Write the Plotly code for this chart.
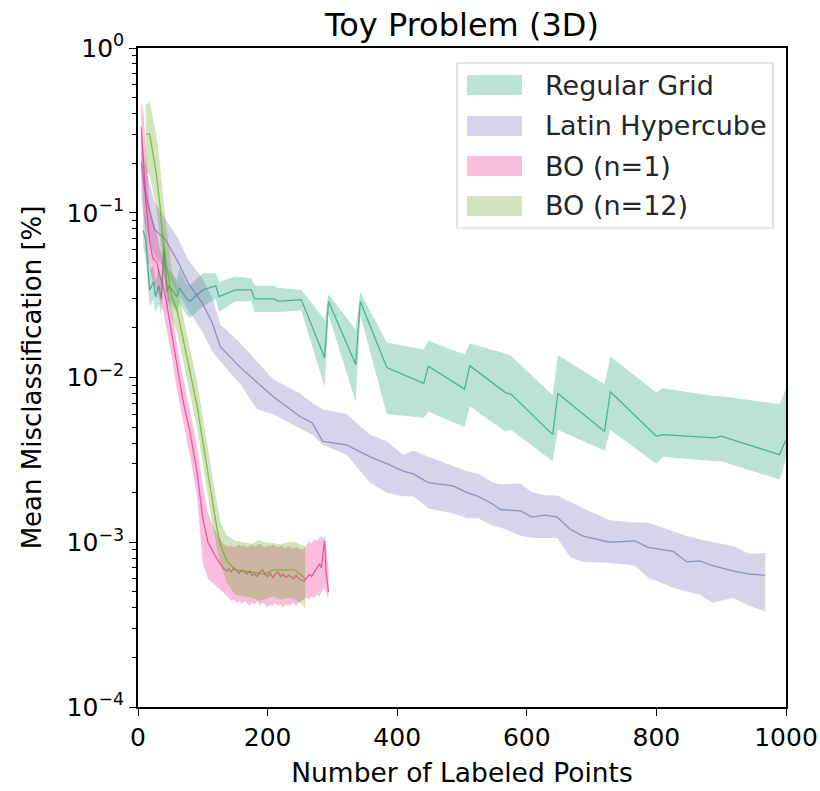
import plotly.graph_objects as go

# ---------------- data ----------------
rg_x = [8, 12, 18, 24, 27, 32, 36, 40, 45, 48, 60, 64, 75, 80, 100, 120, 125, 150, 175, 180,
        210, 216, 252, 288, 294, 336, 343, 384, 441, 448, 504, 512, 567, 576, 640, 648, 720,
        729, 800, 810, 891, 900, 990, 1000]
rg_mean = [0.078, 0.068, 0.034, 0.038, 0.031, 0.036, 0.030, 0.060, 0.033, 0.036, 0.031, 0.035,
           0.030, 0.029, 0.034, 0.036, 0.031, 0.034, 0.034, 0.030, 0.030, 0.029, 0.0297, 0.0132,
           0.029, 0.012, 0.029, 0.0115, 0.0092, 0.0117, 0.0085, 0.0118, 0.0081, 0.0079, 0.0045,
           0.0080, 0.0047, 0.0082, 0.0044, 0.0045, 0.0043, 0.0044, 0.0034, 0.0042]
rg_lo = [0.062, 0.052, 0.027, 0.030, 0.025, 0.028, 0.024, 0.045, 0.026, 0.029, 0.025, 0.028,
         0.024, 0.023, 0.027, 0.030, 0.025, 0.029, 0.029, 0.025, 0.025, 0.025, 0.0255, 0.0088,
         0.024, 0.0071, 0.024, 0.0060, 0.0057, 0.0062, 0.0050, 0.0067, 0.0047, 0.0048, 0.0031,
         0.0048, 0.0036, 0.0048, 0.0030, 0.0033, 0.0031, 0.0031, 0.0024, 0.0032]
rg_hi = [0.105, 0.090, 0.045, 0.048, 0.038, 0.046, 0.038, 0.080, 0.042, 0.045, 0.039, 0.046,
         0.037, 0.036, 0.043, 0.043, 0.038, 0.041, 0.040, 0.036, 0.036, 0.035, 0.034, 0.0225,
         0.032, 0.0195, 0.033, 0.0163, 0.0148, 0.0167, 0.0138, 0.0161, 0.0140, 0.0135, 0.0078,
         0.0137, 0.0091, 0.0134, 0.0081, 0.0086, 0.0077, 0.0077, 0.0069, 0.0085]

lh_x = [5, 10, 20, 26, 42, 62, 77, 99, 114, 127, 157, 184, 208, 250, 269, 285, 322, 358, 384,
        409, 425, 448, 486, 508, 525, 548, 559, 590, 608, 628, 647, 667, 687, 728, 767, 787,
        826, 847, 867, 887, 918, 944, 968]
lh_mean = [0.20, 0.14, 0.095, 0.079, 0.069, 0.050, 0.0377, 0.0284, 0.0217, 0.0154, 0.0116,
           0.0094, 0.0077, 0.0058, 0.0053, 0.0041, 0.0039, 0.0033, 0.0030, 0.0027, 0.0026,
           0.0023, 0.0022, 0.0020, 0.0019, 0.0017, 0.00158, 0.00155, 0.00142, 0.00146, 0.00142,
           0.00120, 0.00109, 0.00100, 0.00102, 0.00093, 0.00088, 0.00076, 0.00077, 0.00072,
           0.00067, 0.00064, 0.00063]
lh_lo = [0.12, 0.09, 0.062, 0.055, 0.045, 0.032, 0.026, 0.019, 0.0145, 0.0125, 0.0092, 0.0064,
         0.0060, 0.0049, 0.0045, 0.0039, 0.0034, 0.0023, 0.0020, 0.0019, 0.0019, 0.0016, 0.0015,
         0.0014, 0.0014, 0.00126, 0.00123, 0.00110, 0.00106, 0.00106, 0.00106, 0.00081,
         0.00076, 0.00075, 0.00072, 0.00061, 0.00053, 0.00050, 0.00048, 0.00043, 0.00046,
         0.00041, 0.00038]
lh_hi = [0.30, 0.21, 0.14, 0.115, 0.092, 0.070, 0.052, 0.040, 0.031, 0.021, 0.0163, 0.0125,
         0.0098, 0.0080, 0.0070, 0.0064, 0.0060, 0.0045, 0.0041, 0.0034, 0.0036, 0.0033, 0.0029,
         0.0027, 0.0026, 0.0023, 0.00225, 0.00227, 0.00201, 0.00193, 0.00192, 0.00175, 0.00161,
         0.00136, 0.00132, 0.00132, 0.00116, 0.00109, 0.00104, 0.00100, 0.00095, 0.00085,
         0.00086]

bo1_x = [5, 8, 12, 16, 18, 23, 29, 34, 39, 45, 52, 60, 69, 80, 91, 100, 108, 119, 131, 137,
         140, 144, 148, 152, 156, 160, 164, 168, 172, 176, 180, 184, 188, 192, 196, 200, 204,
         208, 212, 216, 220, 224, 228, 232, 236, 240, 244, 248, 252, 256, 260, 264, 268, 272,
         276, 280, 283, 286, 288, 290, 292, 294]
bo1_mean = [0.33, 0.20, 0.12, 0.080, 0.066, 0.053, 0.050, 0.041, 0.036, 0.027, 0.0187, 0.0116,
            0.0074, 0.0047, 0.0027, 0.0014, 0.0010, 0.00083, 0.00070, 0.00067,
            0.00069, 0.00066, 0.00070, 0.00067, 0.00065, 0.00068, 0.00066, 0.00064, 0.00067,
            0.00063, 0.00064, 0.00062, 0.00066, 0.00068, 0.00064, 0.00062, 0.00065, 0.00061,
            0.00064, 0.00066, 0.00062, 0.00064, 0.00061, 0.00063, 0.00062, 0.00060, 0.00063,
            0.00060, 0.00059, 0.00058, 0.00060, 0.00064, 0.00062, 0.00066, 0.00069, 0.00074,
            0.00070, 0.00088, 0.00102, 0.00068, 0.00056, 0.00050]
bo1_lo = [0.20, 0.11, 0.070, 0.050, 0.045, 0.038, 0.034, 0.029, 0.025, 0.019, 0.0135, 0.0085,
          0.0055, 0.0034, 0.0019, 0.00075, 0.00060, 0.00055, 0.00050, 0.00047,
          0.00046, 0.00044, 0.00045, 0.00043, 0.00044, 0.00042, 0.00044, 0.00043, 0.00041,
          0.00043, 0.00042, 0.00044, 0.00041, 0.00043, 0.00042, 0.00040, 0.00042, 0.00041,
          0.00043, 0.00041, 0.00042, 0.00040, 0.00042, 0.00041, 0.00042, 0.00043, 0.00041,
          0.00043, 0.00044, 0.00045, 0.00046, 0.00045, 0.00047, 0.00046, 0.00048, 0.00047,
          0.00049, 0.00052, 0.00053, 0.00050, 0.00047, 0.00046]
bo1_hi = [0.47, 0.42, 0.25, 0.13, 0.11, 0.09, 0.075, 0.060, 0.052, 0.040, 0.026, 0.016, 0.0102,
          0.0064, 0.0038, 0.0022, 0.0015, 0.00118, 0.00098, 0.00095,
          0.00094, 0.00096, 0.00093, 0.00095, 0.00097, 0.00094, 0.00096, 0.00093, 0.00095,
          0.00097, 0.00094, 0.00096, 0.00098, 0.00095, 0.00093, 0.00096, 0.00094, 0.00097,
          0.00095, 0.00093, 0.00096, 0.00094, 0.00092, 0.00095, 0.00093, 0.00091, 0.00094,
          0.00092, 0.00090, 0.00091, 0.00096, 0.00101, 0.00099, 0.00104, 0.00102, 0.00107,
          0.00110, 0.00104, 0.00112, 0.00100, 0.00082, 0.00070]

bo12_x = [12, 18, 28, 34, 39, 45, 52, 60, 69, 80, 91, 100, 111, 116, 122, 128, 137, 150, 165,
          176, 186, 196, 208, 220, 232, 242, 250, 258]
bo12_mean = [0.30, 0.30, 0.175, 0.11, 0.064, 0.047, 0.031, 0.026, 0.0175, 0.011, 0.0068, 0.0041,
             0.0022, 0.0016, 0.0012, 0.00095, 0.00077, 0.00068, 0.00067, 0.00066, 0.00065,
             0.00064, 0.00068, 0.00068, 0.00068, 0.00068, 0.00064, 0.00060]
bo12_lo = [0.18, 0.17, 0.11, 0.070, 0.045, 0.033, 0.023, 0.019, 0.013, 0.008, 0.0050, 0.0030,
           0.0016, 0.0012, 0.0009, 0.00072, 0.00057, 0.00048, 0.00047, 0.00046, 0.00044,
           0.00045, 0.00047, 0.00045, 0.00046, 0.00045, 0.00043, 0.00040]
bo12_hi = [0.45, 0.47, 0.30, 0.20, 0.12, 0.075, 0.045, 0.036, 0.024, 0.015, 0.0095, 0.0058,
           0.0031, 0.0023, 0.0017, 0.0013, 0.0011, 0.00102, 0.00100, 0.00098, 0.00103, 0.00100,
           0.00099, 0.00097, 0.00100, 0.00100, 0.00097, 0.00095]

series_names = ["Regular Grid", "Latin Hypercube", "BO (n=1)", "BO (n=12)"]
series = [
    (rg_x, rg_mean, rg_lo, rg_hi, (27, 158, 119)),
    (lh_x, lh_mean, lh_lo, lh_hi, (117, 112, 179)),
    (bo1_x, bo1_mean, bo1_lo, bo1_hi, (231, 41, 138)),
    (bo12_x, bo12_mean, bo12_lo, bo12_hi, (102, 166, 30)),
]

y_tickvals = [1e-4, 1e-3, 1e-2, 1e-1, 1]
y_ticktext = ["10<sup>\u22124</sup>", "10<sup>\u22123</sup>", "10<sup>\u22122</sup>",
              "10<sup>\u22121</sup>", "10<sup>0</sup>"]
x_tickvals = [0, 200, 400, 600, 800, 1000]

FONT = "DejaVu Sans"
FS = 25

# plot area in pixels (layout only)
L, R, T, B = 138, 786, 48, 707
W, H = 820, 791


def px_x(p):
    return (p - L) / (R - L)


def px_y(p):
    return (B - p) / (B - T)


fig = go.Figure()
for name, (x, m, lo, hi, c) in zip(series_names, series):
    r, g, b = c
    fig.add_trace(go.Scatter(
        x=list(x) + list(x)[::-1], y=list(hi) + list(lo)[::-1],
        fill="toself", fillcolor=f"rgba({r},{g},{b},0.3)",
        line=dict(width=0), mode="lines", name=name, hoverinfo="skip", showlegend=False))
    fig.add_trace(go.Scatter(
        x=x, y=m, mode="lines", line=dict(color=f"rgba({r},{g},{b},0.7)", width=1.3),
        name=name, showlegend=False))

# legend drawn as layout shapes/annotations (matplotlib-style patches)
shapes = [dict(type="rect", xref="paper", yref="paper",
               x0=px_x(457), x1=px_x(773), y0=px_y(228), y1=px_y(63),
               line=dict(color="#cccccc", width=1.2), fillcolor="rgba(255,255,255,0.8)",
               layer="above")]
annotations = []
row_y = [85, 126, 166, 206]
for name, (_, _, _, _, c), yc in zip(series_names, series, row_y):
    r, g, b = c
    shapes.append(dict(type="rect", xref="paper", yref="paper",
                       x0=px_x(467), x1=px_x(522), y0=px_y(yc + 10), y1=px_y(yc - 10),
                       line=dict(width=0), fillcolor=f"rgba({r},{g},{b},0.3)", layer="above"))
    annotations.append(dict(text=name, xref="paper", yref="paper", x=px_x(543), y=px_y(yc),
                            xanchor="left", yanchor="middle", showarrow=False,
                            font=dict(family=FONT, size=27, color="#262626")))

minor_vals = [k * 10.0 ** e for e in range(-4, 0) for k in range(2, 10)]

fig.update_layout(
    width=W, height=H,
    margin=dict(l=L, r=W - R, t=T, b=H - B, autoexpand=False),
    paper_bgcolor="white", plot_bgcolor="white",
    font=dict(family=FONT, size=FS, color="black"),
    title=dict(text="Toy Problem (3D)", x=0.5, xref="paper", y=1 - 25 / H,
               yref="container", xanchor="center", yanchor="middle",
               font=dict(family=FONT, size=32, color="black")),
    shapes=shapes, annotations=annotations,
    showlegend=False,
)
fig.update_xaxes(
    range=[0, 1000], tickvals=x_tickvals, showgrid=False, zeroline=False, automargin=False,
    showline=True, linecolor="black", linewidth=1.6, mirror=True,
    ticks="outside", ticklen=7, tickwidth=1.4, tickcolor="black",
    tickfont=dict(family=FONT, size=FS),
    title=dict(text="Number of Labeled Points", font=dict(family=FONT, size=26.5), standoff=13),
)
fig.update_yaxes(
    type="log", range=[-4, 0], tickvals=y_tickvals, ticktext=y_ticktext,
    showgrid=False, zeroline=False, automargin=False,
    showline=True, linecolor="black", linewidth=1.6, mirror=True,
    ticks="outside", ticklen=7, tickwidth=1.4, tickcolor="black",
    minor=dict(tickvals=minor_vals, ticks="outside", ticklen=4, tickwidth=1.1, tickcolor="black",
               showgrid=False),
    tickfont=dict(family=FONT, size=FS),
    title=dict(text="Mean Misclassification [%]", font=dict(family=FONT, size=26), standoff=17),
)

fig.write_html("out.html")
